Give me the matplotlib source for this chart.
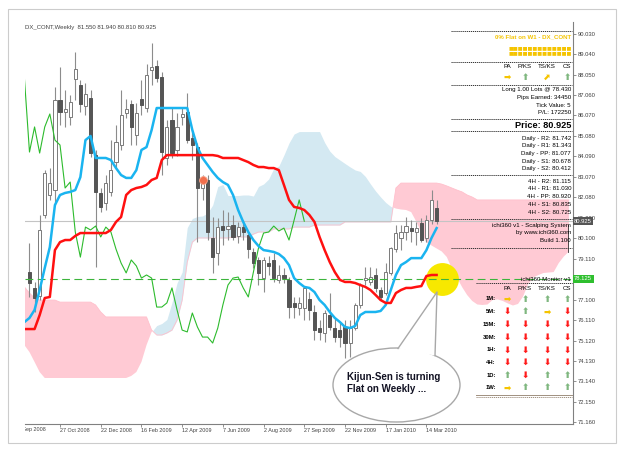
import numpy as np
import matplotlib.pyplot as plt
from matplotlib.patches import Ellipse, Polygon, Rectangle
from matplotlib.lines import Line2D
from matplotlib.transforms import Bbox, blended_transform_factory

plt.rcParams['font.family'] = ['Liberation Sans', 'DejaVu Sans']

title = 'DX_CONT,Weekly  81.550 81.940 80.810 80.925'

# weekly bars 1..81 (bar 81 = current week)
opens = [78.45, 77.68, 77.29, 81.23, 82.20, 82.44, 86.82, 86.24, 86.00, 87.84,
         87.55, 86.53, 86.92, 84.14, 82.30, 81.81, 82.35, 83.80, 84.63, 86.19,
         86.63, 85.12, 86.87, 86.43, 88.28, 88.47, 87.94, 84.00, 85.85, 84.39,
         86.00, 86.24, 84.97, 84.53, 82.54, 82.93, 80.11, 79.38, 80.69, 80.55,
         80.74, 80.21, 80.64, 80.25, 79.43, 79.04, 78.16, 78.89, 79.04, 78.07,
         78.31, 78.07, 76.95, 76.70, 76.70, 77.14, 76.51, 75.73, 75.49, 76.36,
         75.73, 75.63, 75.78, 75.00, 75.73, 76.85, 78.07, 77.97, 78.31, 77.58,
         77.43, 78.41, 79.57, 80.11, 80.40, 80.59, 80.40, 80.84, 80.11, 80.98,
         81.55]
highs = [79.86, 77.97, 81.23, 83.41, 83.51, 87.45, 88.43, 87.31, 87.06, 89.15,
         87.79, 87.65, 87.31, 84.39, 82.54, 83.17, 84.87, 85.60, 87.31, 86.87,
         86.82, 86.67, 87.79, 88.57, 89.59, 88.77, 88.18, 85.85, 86.48, 86.19,
         86.48, 87.16, 85.36, 84.73, 83.17, 83.17, 81.13, 81.08, 81.47, 81.37,
         81.23, 80.89, 80.98, 80.40, 79.62, 79.18, 79.18, 79.23, 79.38, 78.79,
         78.65, 78.21, 77.24, 77.24, 77.77, 77.48, 76.85, 76.12, 76.61, 77.43,
         76.22, 76.02, 76.12, 76.12, 76.95, 77.92, 78.70, 78.70, 78.65, 77.73,
         78.89, 79.67, 80.74, 80.74, 81.13, 80.98, 80.89, 81.08, 81.23, 82.44,
         81.94]
lows = [77.24, 76.51, 77.09, 81.08, 81.96, 81.71, 85.60, 85.51, 85.60, 86.82,
        86.24, 86.09, 84.05, 78.70, 81.37, 81.47, 82.15, 83.51, 84.39, 85.95,
        84.63, 84.63, 86.09, 86.24, 87.55, 87.70, 83.17, 83.66, 84.00, 84.10,
        85.60, 84.73, 83.90, 79.91, 81.96, 80.01, 78.41, 78.79, 79.77, 80.01,
        80.01, 79.86, 80.01, 79.13, 78.65, 77.82, 77.48, 78.31, 77.97, 77.92,
        77.92, 76.22, 76.22, 76.36, 76.12, 76.12, 75.15, 75.15, 75.05, 75.63,
        75.05, 74.81, 74.27, 74.32, 75.63, 76.70, 77.82, 77.82, 77.48, 77.09,
        77.34, 78.31, 79.43, 79.52, 80.01, 79.91, 79.77, 79.91, 79.91, 80.79,
        80.81]
closes = [77.92, 77.19, 80.50, 83.27, 82.78, 86.82, 86.24, 86.38, 86.72, 88.33,
          86.63, 87.11, 84.24, 82.35, 81.62, 82.78, 83.41, 84.78, 86.09, 86.38,
          85.51, 86.19, 86.58, 88.04, 88.43, 87.89, 84.29, 85.51, 84.24, 85.51,
          86.14, 84.87, 84.63, 82.54, 82.83, 80.40, 79.18, 80.64, 80.50, 80.69,
          80.16, 80.64, 80.40, 79.57, 78.89, 78.41, 79.04, 78.75, 78.16, 78.31,
          78.16, 76.75, 76.75, 76.95, 77.68, 76.61, 75.63, 75.54, 76.46, 75.78,
          75.29, 75.29, 75.00, 75.73, 76.85, 77.82, 78.16, 78.21, 77.68, 77.24,
          78.45, 79.62, 80.35, 80.40, 80.69, 80.45, 80.59, 80.01, 80.98, 81.96,
          80.925]

# ichimoku lines, bars 0..81
tenkan = [76.02, 76.22, 76.61, 77.58, 78.65, 79.67, 81.71, 82.20, 82.30, 82.35,
          82.44, 83.07, 84.87, 85.07, 84.00, 84.00, 84.00, 83.90, 83.51, 83.17,
          83.03, 83.03, 83.41, 84.39, 84.53, 85.36, 86.43, 86.43, 86.43, 86.43,
          86.43, 86.43, 86.43, 85.36, 84.53, 84.00, 83.66, 83.32, 83.03, 82.83,
          82.69, 82.20, 81.47, 80.89, 80.40, 80.01, 79.72, 79.52, 79.48, 79.43,
          79.33, 79.13, 78.79, 78.16, 77.92, 77.73, 77.68, 77.48, 77.09, 76.85,
          76.51, 76.22, 76.02, 75.78, 75.73, 75.83, 76.36, 76.51, 76.51, 76.51,
          76.56, 76.85, 77.58, 78.31, 78.79, 78.94, 79.13, 79.13, 79.13, 79.52,
          80.11, 80.59]
kijun = [75.68, 75.68, 75.68, 76.36, 77.19, 77.24, 79.52, 79.91, 80.01, 80.01,
         80.21, 80.35, 80.35, 80.35, 80.35, 80.35, 80.35, 80.50, 80.89, 81.13,
         82.20, 82.44, 82.54, 82.59, 82.69, 82.93, 83.03, 83.90, 84.14, 84.14,
         84.14, 84.14, 84.14, 84.14, 84.14, 84.14, 84.14, 84.14, 84.10, 84.00,
         84.00, 84.00, 84.00, 83.90, 83.80, 83.66, 83.56, 83.56, 83.51, 83.51,
         83.41, 82.69, 81.96, 81.62, 81.57, 81.47, 81.23, 80.89, 80.16, 79.52,
         78.94, 78.45, 78.07, 77.97, 77.97, 77.92, 77.82, 77.73, 77.58, 77.34,
         77.09, 76.95, 76.95, 77.43, 77.58, 77.68, 77.68, 77.73, 77.77, 78.26,
         78.31, 78.31]
# senkou span A for bars 0..25 (comes from history left of the chart)
span_a_early = [74.90, 74.56, 74.08, 73.59] + [73.30] * 17 + [73.40, 73.59, 74.08, 74.90, 75.54]
# senkou span B, bars 0..107
span_b = ([77.73, 77.43, 77.19] + [77.09] * 4 + [76.99] * 7 + [76.85, 76.51] + [76.27] * 9
          + [75.63, 75.39, 75.39, 75.49, 75.63, 76.12, 77.09, 78.94, 79.91] + [80.11] * 7
          + [80.16] * 4 + [80.30] + [80.40] * 3 + [80.55] * 4 + [80.64] * 4 + [80.74] * 6
          + [80.89] * 10 + [82.54] + [82.78] * 8
          + [82.73, 82.64, 82.54, 82.44, 82.35, 82.20, 82.10] + [81.96] * 19)
shift = 26

current_price = 80.925
entry_price = 78.125
signal_bar, signal_price = 35, 82.93
flat_bar, flat_price = 82, 78.10

date_ticks = [-1, 7, 15, 23, 31, 39, 47, 55, 63, 71, 79]
date_labels = ['1 Sep 2008', '27 Oct 2008', '22 Dec 2008', '16 Feb 2009', '12 Apr 2009',
               '7 Jun 2009', '2 Aug 2009', '27 Sep 2009', '22 Nov 2009', '17 Jan 2010',
               '14 Mar 2010']
price_ticks = [90.030, 89.040, 88.050, 87.060, 86.070, 85.080, 84.090, 83.070, 82.080,
               81.090, 80.100, 79.110, 77.100, 76.110, 75.120, 74.130, 73.140, 72.150, 71.160]

columns = ['PA', 'P/KS', 'TS/KS', 'CS']
w1_signals = 'RUEU'
account = ['Long 1.00 Lots @ 78.430', 'Pips Earned: 34450', 'Tick Value: 5', 'P/L: 172250']
daily_pivots = [('R2', '81.742'), ('R1', '81.343'), ('PP', '81.077'), ('S1', '80.678'), ('S2', '80.412')]
h4_pivots = [('R2', '81.115'), ('R1', '81.030'), ('PP', '80.920'), ('S1', '80.835'), ('S2', '80.725')]
monitor_tf = ['1M:', '5M:', '15M:', '30M:', '1H:', '4H:', '1D:', '1W:']
monitor_sig = ['RUUU', 'DURD', 'DDDD', 'DDDD', 'DDDD', 'DDDD', 'UDUU', 'RUUU']

W, H = 625, 453
fig = plt.figure(figsize=(W / 100, H / 100), dpi=100)
fig.patch.set_facecolor('white')


def fx(px):
    return px / W


def fy(py):
    return 1 - py / H


ax = fig.add_axes([fx(25), fy(424), (573 - 25) / W, (424 - 22) / H])
ax.set_xlim(0.12, 107.8)
ax.set_ylim(71.062, 90.614)

# cloud
tk = np.array(tenkan)
kj = np.array(kijun)
sb = np.array(span_b)
sa = np.concatenate([span_a_early, (tk + kj) / 2])
xi = np.arange(len(sb))
ax.fill_between(xi, sa, sb, where=sa >= sb, interpolate=True, color='#d4e9f2', lw=0, zorder=1)
ax.fill_between(xi, sa, sb, where=sa < sb, interpolate=True, color='#ffcad4', lw=0, zorder=1)
ax.plot(xi, sb, color='#ffc0cc', lw=0.6, zorder=1.2)

ax.axhline(current_price, color='#c4c4c4', lw=0.8, zorder=1.5)

# candles
o, h, l, c = map(np.array, (opens, highs, lows, closes))
bars = np.arange(1, len(o) + 1)
up = c >= o
ax.vlines(bars, l, h, color='#8c8c8c', lw=0.8, zorder=2)
ax.bar(bars[up], (c - o)[up], bottom=o[up], width=0.62, color='white',
       edgecolor='#7a7a7a', lw=0.7, zorder=3)
ax.bar(bars[~up], (o - c)[~up], bottom=c[~up], width=0.62, color='#555555',
       edgecolor='#555555', lw=0.7, zorder=3)

ax.scatter([flat_bar], [flat_price], s=560, color='#f7e800', lw=0, zorder=3.5)

ax.axhline(entry_price, color='#3cb43c', lw=0.8, ls=(0, (7, 4)), zorder=4)
ax.plot(bars - shift, c, color='#2dbb2d', lw=0.8, zorder=4)
ax.plot(np.arange(len(tk)), tk, color='#1ab4f0', lw=1.8, zorder=5)
ax.plot(np.arange(len(kj)), kj, color='#ff1010', lw=1.8, zorder=5)
ax.scatter([signal_bar], [signal_price], s=32, color='#f2704e', edgecolors='#f8a68c',
           lw=0.6, zorder=6)

# axes styling
for side in ('top', 'left'):
    ax.spines[side].set_visible(False)
for side in ('bottom', 'right'):
    ax.spines[side].set_color('#808080')
    ax.spines[side].set_linewidth(0.8)
ax.yaxis.tick_right()
ax.set_yticks(price_ticks)
ax.set_yticklabels([f'{v:.3f}' for v in price_ticks])
ax.tick_params(axis='y', length=2.2, width=0.6, colors='#808080', labelcolor='#404040',
               labelsize=4.2, pad=1.4)
ax.set_xticks(date_ticks[1:])
ax.set_xticklabels(date_labels[1:])
for lbl in ax.get_xticklabels():
    lbl.set_ha('left')
ax.tick_params(axis='x', length=2.2, width=0.6, colors='#808080', labelcolor='#404040',
               labelsize=3.9, pad=1.0)
first = fig.text(fx(24.4 + 5.09 * date_ticks[0] - 1.5), fy(429.5), date_labels[0],
                 fontsize=3.9, color='#404040', ha='left', va='center')
first.set_clip_on(True)
first.set_clip_box(Bbox.from_extents(25, 0, 625, 453))

yt = blended_transform_factory(ax.transAxes, ax.transData)
ax.text(1.002, current_price, f'{current_price:.3f}', transform=yt, ha='left', va='center',
        fontsize=4.2, color='white', zorder=10,
        bbox=dict(boxstyle='square,pad=0.25', fc='#555555', ec='none'))
ax.text(1.002, entry_price, f'{entry_price:.3f}', transform=yt, ha='left', va='center',
        fontsize=4.2, color='white', zorder=10,
        bbox=dict(boxstyle='square,pad=0.25', fc='#2fbf2f', ec='none'))

fig.text(fx(25), fy(28), title, fontsize=4.3, color='#404040', ha='left', va='center')

# outer frame
fig.add_artist(Rectangle((fx(8), fy(443)), (616 - 8) / W, (443 - 9) / H,
                         transform=fig.transFigure, fill=False, ec='#cccccc', lw=0.8))


def panel(px, py, s, **kw):
    kw.setdefault('fontsize', 4.4)
    kw.setdefault('color', 'black')
    kw.setdefault('ha', 'right')
    fig.text(fx(px), fy(py), s, va='center', **kw)


def sep(py, x0=451, x1=572, color='#333333', ls=(0, (1.2, 0.8))):
    fig.add_artist(Line2D([fx(x0), fx(x1)], [fy(py), fy(py)], transform=fig.transFigure,
                          color=color, lw=0.7, ls=ls))


arrow_style = {'U': ('\u2b06', '#7fb77f'), 'D': ('\u2b07', '#ff1a1a'),
               'R': ('\u27a1', '#f5c400'), 'E': ('\u2b08', '#f5c400')}
col_x = [507, 525, 547, 567]


def arrows(py, sig):
    for k, ch in enumerate(sig):
        glyph, col = arrow_style[ch]
        fig.text(fx(col_x[k]), fy(py), glyph, fontsize=6.3, color=col, ha='center',
                 va='center', family=['DejaVu Sans'], fontweight='bold')


sep(30.7)
panel(571, 36.5, '0% Flat on W1 - DX_CONT', color='#f5c400', fontweight='bold')
panel(572, 48, '\u25a0' * 13, color='#f5c400', fontsize=3.7, family=['DejaVu Sans'])
panel(572, 53, '\u25a0' * 13, color='#f5c400', fontsize=3.7, family=['DejaVu Sans'])
sep(61.7)
for k, name in enumerate(columns):
    panel(col_x[k], 66.7, name, ha='center')
arrows(77.5, w1_signals)
sep(84.7)
for k, s in enumerate(account):
    panel(571, 90 + 7.6 * k, s)
sep(118.7)
panel(571, 125.7, f'Price: {current_price:.3f}', fontsize=6.6, fontweight='bold')
sep(131)
for k, (name, val) in enumerate(daily_pivots):
    panel(571, 138.3 + 7.6 * k, f'Daily - {name}: {val}')
sep(175)
for k, (name, val) in enumerate(h4_pivots):
    panel(571, 181.3 + 7.7 * k, f'4H - {name}: {val}')
sep(219)
panel(571, 225.3, 'ichi360 v1 - Scalping System')
panel(571, 232.7, 'by www.ichi360.com')
panel(571, 240.2, 'Build 1.100')
sep(248)
fig.add_artist(Line2D([fx(568), fx(568)], [fy(225), fy(252)], transform=fig.transFigure,
                      color='#333333', lw=0.6))
panel(571, 279.3, 'ichi360 Monitor v1')
sep(282.7, x0=476)
for k, name in enumerate(columns):
    panel(col_x[k], 288.3, name, ha='center')
for k, (tf, sig) in enumerate(zip(monitor_tf, monitor_sig)):
    py = 299 + 12.7 * k
    panel(496, py, tf, fontweight='bold', fontsize=4.2)
    arrows(py, sig)
sep(395, x0=476, color='#a09080', ls='-')
sep(397, x0=476, color='#a09080', ls=(0, (1.2, 0.8)))

# speech bubble
bub_edge = '#a8a8a8'
fig.add_artist(Ellipse((fx(396.5), fy(385)), 127 / W, 74 / H, transform=fig.transFigure,
                       fc='white', ec=bub_edge, lw=1.0))
tail = [(398, 348.5), (437, 292), (435, 355.6)]
fig.add_artist(Polygon([(fx(x), fy(y)) for x, y in tail], closed=True,
                       transform=fig.transFigure, fc='white', ec='none'))
fig.add_artist(Line2D([fx(x) for x, y in tail], [fy(y) for x, y in tail],
                      transform=fig.transFigure, color=bub_edge, lw=1.0))
fig.text(fx(347), fy(377), 'Kijun-Sen is turning', fontsize=7, fontweight='bold',
         color='#111122', ha='left', va='center')
fig.text(fx(347), fy(389.5), 'Flat on Weekly ...', fontsize=7, fontweight='bold',
         color='#111122', ha='left', va='center')

fig.savefig('out.png', dpi=100)
